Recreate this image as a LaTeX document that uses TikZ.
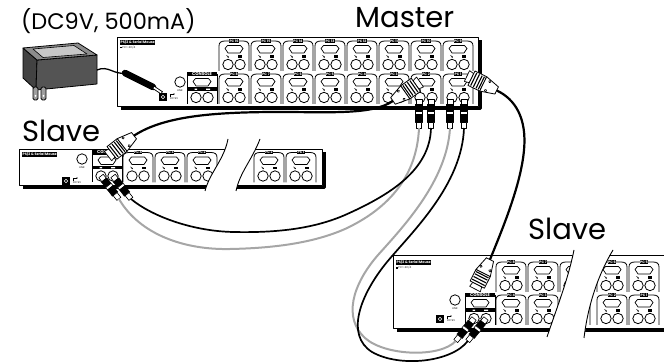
\documentclass[tikz,border=0pt]{standalone}
\usepackage{fontspec}
\setmainfont{Poppins}
\usetikzlibrary{arrows.meta,calc}

\definecolor{adtop}{gray}{0.55}
\definecolor{adfront}{gray}{0.33}
\definecolor{adside}{gray}{0.26}
\definecolor{adinner}{gray}{0.78}
\definecolor{prong}{gray}{0.62}

\tikzset{
  tag/.style={fill=black,text=white,inner sep=0.5pt,font=\fontsize{3.4}{3.4}\selectfont\bfseries},
  note/.style={inner sep=0pt,font=\fontsize{2.6}{2.6}\selectfont},
  % one PC port group (origin = top left)
  pcport/.pic={
    \draw[line width=0.8] (1,33) -- (1,8) .. controls (1,4.5) and (3,3) .. (7,3) -- (25,3) .. controls (29,3) and (31,4.5) .. (31,8) -- (31,33);
    \draw[fill=white,line width=0.7] (7,10.5) -- (9.5,7.5) -- (22.5,7.5) -- (25,10.5) -- (22,15) -- (10,15) -- cycle;
    \node[tag] (-tag) at (16,3) {#1};
    \draw[line width=0.6,-{Latex[length=1.5pt,width=1.5pt]}] (8.5,17.3) -- (11,19.8);
    \fill (19.5,17.5) rectangle (24,19.8);
    \draw[line width=0.8] (10,26.5) circle (5.2) (22,26.5) circle (5.2);
  },
  consoleport/.pic={
    \draw[line width=0.8] (1,3) -- (1,33) (31,3) -- (31,33);
    \node[tag,font=\fontsize{4.2}{4.2}\selectfont\bfseries,minimum width=30pt] (-tag) at (16,3) {CONSOLE};
    \draw[fill=white,line width=0.7] (7,10.5) -- (9.5,7.5) -- (22.5,7.5) -- (25,10.5) -- (22,15) -- (10,15) -- cycle;
    \fill (1,16.5) rectangle (31,20);
    \fill[white] (8.5,17.6) rectangle (11,18.9) (20,17.6) rectangle (24,18.9);
    \draw[line width=0.8] (10,26.5) circle (5.2) (22,26.5) circle (5.2);
  },
  linkport/.pic={
    \draw[line width=0.8] (0,0) circle (5.2);
    \node[note] (-txt) at (0,8.5) {LINK};
  },
  powerjack/.pic={
    \fill (-4,-4) rectangle (4,4);
    \draw[white,line width=0.6] (0,0) circle (1.8);
    \draw[line width=0.6,-{Latex[length=1.5pt,width=1.5pt]}] (7,0) -- (7,-3) -- (12,-3);
    \node[note,anchor=west] (-dc) at (7,2) {DC 9V};
  },
  % plugs point along local +y, from the port to the cable
  ps2plug/.pic={
    \draw[fill=white,line width=0.6] (-2.8,0) rectangle (2.8,5);
    \draw[fill=black] (-3.5,5) rectangle (3.5,12);
    \draw[fill=white,line width=0.6] (-3.5,12) rectangle (3.5,15);
    \draw[fill=black] (-3.5,15) rectangle (3.5,23);
    \draw[fill=white,line width=0.6] (-2.5,23) rectangle (2.5,29);
    \coordinate (-tail) at (0,29);
  },
  dbplug/.pic={
    \draw[fill=white,line width=0.7] (-6,0) -- (6,0) -- (5,5) -- (-5,5) -- cycle;
    \draw[fill=white,line width=0.8] (-8,5) rectangle (8,18);
    \foreach \r in {7.5,10.5,13.5,16} \draw[line width=1.1] (-7,\r) -- (7,\r);
    \draw[fill=white,line width=0.8] (-8,18) -- (8,18) -- (4,33) -- (-4,33) -- cycle;
    \draw[line width=0.6] (-5,23) circle (1.2) (5,23) circle (1.2);
    \coordinate (-tail) at (0,33);
  },
}

\begin{document}
\begin{tikzpicture}[x=1pt,y=-1pt,line join=round,
  cord/.style={line width=1.7},
  dbcord/.style={line width=2.2},
  graycord/.style={line width=2,color=gray!70},
  title/.style={inner sep=0pt,anchor=base west,font=\fontsize{29}{29}\selectfont}]
\useasboundingbox (0,0) rectangle (664,363);

\node[title,font=\fontsize{22.5}{22.5}\selectfont] (dc) at (21,30) {(DC9V, 500mA)};
\node[title] (master) at (355,28) {Master};
\node[title] (slaveA) at (22,142) {Slave};
\node[title] (slaveB) at (528,240) {Slave};

% power adapter
\filldraw[fill=adside,line width=0.8] (23,48) -- (37,60) -- (36,90) -- (23,78) -- cycle;
\filldraw[fill=adfront,line width=0.8] (37,60) -- (97,55) -- (97,84) -- (36,90) -- cycle;
\filldraw[fill=adtop,line width=0.8] (23,48) -- (78,43) -- (97,55) -- (37,60) -- cycle;
\filldraw[fill=adinner,line width=0.6] (33,49) -- (74,45.5) -- (87,54) -- (43,57.5) -- cycle;
\foreach \px in {33,41} {
  \filldraw[fill=prong,line width=0.8,rounded corners=1.5] (\px,87) rectangle (\px+5,100);
  \fill[white] (\px+2.5,96) circle (1);
}

% master
\draw[line width=0.9] (117,37) rectangle (478,106);
\draw[line width=3] (121,108.5) -- (480.5,108.5) -- (480.5,40);
\node[tag,anchor=north west] (mbadge) at (120,39.5) {PS/2 \& Serial Mouse};
\node[note,anchor=north west] (mnote) at (120,45.5) {\rule{1.6pt}{1.6pt} PC 1-2C/4};
\pic (mlink) at (180,82) {linkport};
\pic (mjack) at (163,97) {powerjack};
\pic (mcon) at (186,71) {consoleport};
\foreach \k in {0,...,7} {
  \pgfmathtruncatemacro\ta{16-\k}
  \pgfmathtruncatemacro\tb{8-\k}
  \pic (mt\k) at (218+32*\k,38) {pcport={PC \ta}};
  \pic (mb\k) at (218+32*\k,71) {pcport={PC \tb}};
}

% slave (left)
\draw[line width=0.9] (19,149) rectangle (322,185);
\draw[line width=3] (23,187.5) -- (324.5,187.5) -- (324.5,152);
\node[tag,anchor=north west] (sabadge) at (22,151.5) {PS/2 \& Serial Mouse};
\pic (salink) at (82,159) {linkport};
\pic (sajack) at (66,181) {powerjack};
\pic (sacon) at (91,149.5) {consoleport};
\foreach \x/\t in {122/4,154/3,186/2,253/2,285/1}
  \pic (sa\x) at (\x,149.5) {pcport={PC \t}};
\fill[white] (228,139) .. controls (224,160) and (210,172) .. (205,191) -- (236,191) .. controls (240,172) and (252,160) .. (260,139) -- cycle;
\draw[line width=0.9] (228,139) .. controls (224,160) and (210,172) .. (205,191);
\draw[line width=0.9] (260,139) .. controls (252,160) and (240,172) .. (236,191);

% slave (right)
\draw[line width=0.9] (393,255) rectangle (700,328);
\draw[line width=3] (397,330.5) -- (702,330.5);
\node[tag,anchor=north west] (sbbadge) at (396,260) {PS/2 \& Serial Mouse};
\node[note,anchor=north west] (sbnote) at (396,266) {\rule{1.6pt}{1.6pt} PC 1-2C/4};
\pic (sblink) at (455,300) {linkport};
\pic (sbjack) at (440,319) {powerjack};
\pic (sbcon) at (464,292) {consoleport};
\foreach \x/\t/\u in {495/8/4,527/7/3,559/6/2,596/6/2,628/5/1} {
  \pic (sbt\x) at (\x,259) {pcport={PC \t}};
  \pic (sbb\x) at (\x,292) {pcport={PC \u}};
}
\fill[white] (574,249) .. controls (568,280) and (556,310) .. (547,338) -- (584,339) .. controls (588,305) and (598,275) .. (613,249) -- cycle;
\draw[line width=0.9] (574,250) .. controls (568,280) and (556,310) .. (547,337);
\draw[line width=0.9] (613,250) .. controls (598,275) and (588,305) .. (584,338);

% connectors
\pic[rotate=-55] (mdbA) at (420,82) {dbplug};
\pic[rotate=64] (mdbB) at (467,76) {dbplug};
\pic[rotate=128] (sdbA) at (108,156) {dbplug};
\pic[rotate=153] (sdbB) at (475,289) {dbplug};
\foreach \n/\x in {1/419,2/431,3/450,4/464}
  \pic (mp\n) at (\x,99) {ps2plug};
\pic[rotate=38] (sp1) at (101,176) {ps2plug};
\pic[rotate=38] (sp2) at (113,176) {ps2plug};
\pic[rotate=-39] (sq1) at (474,318.5) {ps2plug};
\pic[rotate=-39] (sq2) at (486,318.5) {ps2plug};

% power cord and plug
\coordinate (cordA) at (97,70);
\coordinate (plugA) at (125,73);
\coordinate (plugB) at (153,87);
\coordinate (plugC) at (162,93);
\draw[cord,line width=1.3] (cordA) .. controls (108,65) and (114,75) .. (plugA);
\draw[line width=6.5,line cap=round] (plugA) -- (plugB);
\draw[line width=3.4] (plugB) -- (plugC);
\draw[line width=1.6,white] ($(plugB)!0.1!(plugC)$) -- ($(plugB)!0.92!(plugC)$);

% cables
\draw[dbcord] (mdbA-tail) .. controls (373,115) and (330,112) .. (280,112) .. controls (220,112) and (165,115) .. (sdbA-tail);
\draw[dbcord] (mdbB-tail) .. controls (515,99) and (527,118) .. (524,150) .. controls (521,185) and (502,230) .. (sdbB-tail);
\draw[graycord] (mp1-tail) .. controls (417,175) and (390,208) .. (345,229) .. controls (320,240) and (285,248) .. (230,249) .. controls (185,250) and (140,235) .. (sp1-tail);
\draw[cord] (mp2-tail) .. controls (430,170) and (390,195) .. (345,215) .. controls (315,228) and (280,233) .. (233,232) .. controls (190,231) and (150,215) .. (sp2-tail);
\draw[graycord] (mp3-tail) .. controls (447,180) and (405,225) .. (378,255) .. controls (352,285) and (343,318) .. (365,338) .. controls (385,356) and (440,358) .. (sq1-tail);
\draw[cord] (mp4-tail) .. controls (462,185) and (412,232) .. (387,262) .. controls (360,295) and (345,335) .. (372,352) .. controls (400,368) and (452,362) .. (sq2-tail);
\end{tikzpicture}
\end{document}
